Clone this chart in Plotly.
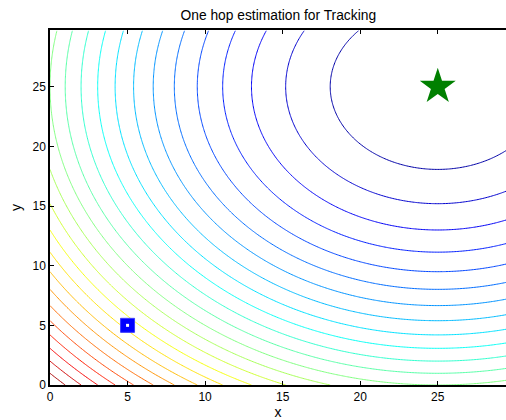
import numpy as np
import plotly.graph_objects as go

# Positions of the tracked target and the estimating node
target_pos = [25, 25]
node_pos = [5, 5]

# Number of contour levels drawn between min and max of the cost field
n_levels = 25

# Axis extents and ticks
x_limits = [0, 29.4]
y_limits = [0, 29.75]
x_ticks = [0, 5, 10, 15, 20, 25]
y_ticks = [0, 5, 10, 15, 20, 25]

# Cost field: squared distance to the target over the sensing area
gx = np.linspace(0, 29.7, 298)
gy = np.linspace(0, 29.7, 298)
GX, GY = np.meshgrid(gx, gy)
Z = (GX - target_pos[0]) ** 2 + (GY - target_pos[1]) ** 2
z_lo, z_hi = float(Z.min()), float(Z.max())
step = (z_hi - z_lo) / (n_levels + 1)
first_level = z_lo + step
last_level = z_lo + n_levels * step


def jet(f):
    f = min(max(f, 0.0), 1.0)
    r = np.clip(min(4 * f - 1.5, -4 * f + 4.5), 0, 1)
    g = np.clip(min(4 * f - 0.5, -4 * f + 3.5), 0, 1)
    b = np.clip(min(4 * f + 0.5, -4 * f + 2.5), 0, 1)
    return f"rgb({int(round(r * 255))},{int(round(g * 255))},{int(round(b * 255))})"


# Colour each level by its value relative to the full field range (jet map)
colorscale = []
for p in np.linspace(0, 1, 101):
    level = first_level + p * (last_level - first_level)
    colorscale.append([float(p), jet((level - z_lo) / (z_hi - z_lo))])

fig = go.Figure()
fig.add_trace(go.Contour(
    x=gx, y=gy, z=Z,
    contours=dict(start=first_level, end=last_level + 1e-6, size=step, coloring="lines"),
    colorscale=colorscale,
    line=dict(width=1),
    showscale=False,
    hoverinfo="skip",
))

fig.add_trace(go.Scatter(
    x=[target_pos[0]], y=[target_pos[1]], mode="markers",
    marker=dict(symbol="star", size=27, color="rgb(0,128,0)", line=dict(width=0)),
    showlegend=False,
))
fig.add_trace(go.Scatter(
    x=[node_pos[0]], y=[node_pos[1]], mode="markers",
    marker=dict(symbol="square", size=14, color="rgb(0,0,255)", line=dict(width=1, color="rgb(60,60,255)")),
    showlegend=False,
))
fig.add_trace(go.Scatter(
    x=[node_pos[0]], y=[node_pos[1]], mode="markers",
    marker=dict(symbol="square", size=3, color="white", line=dict(width=0)),
    showlegend=False,
))

axis_font = dict(family="Liberation Sans, Arial, Helvetica, sans-serif", size=12, color="black")
fig.update_layout(
    width=506, height=420,
    margin=dict(l=50, r=0, t=30, b=35),
    paper_bgcolor="white", plot_bgcolor="white",
    font=axis_font,
    title=dict(text="One hop estimation for Tracking", x=0.55, xanchor="center",
               y=1 - 15 / 420, yanchor="middle", font=dict(size=13.8)),
    showlegend=False,
    xaxis=dict(range=x_limits, tickvals=x_ticks, ticks="inside", ticklen=4, tickcolor="black",
               showline=True, linecolor="black", linewidth=1.5, mirror="ticks",
               showgrid=False, zeroline=False, title=dict(text="x", standoff=6)),
    yaxis=dict(range=y_limits, tickvals=y_ticks, ticks="inside", ticklen=4, tickcolor="black",
               showline=True, linecolor="black", linewidth=1.5, mirror=False,
               showgrid=False, zeroline=False, title=dict(text="y", standoff=8)),
)

fig.write_html("out.html")
